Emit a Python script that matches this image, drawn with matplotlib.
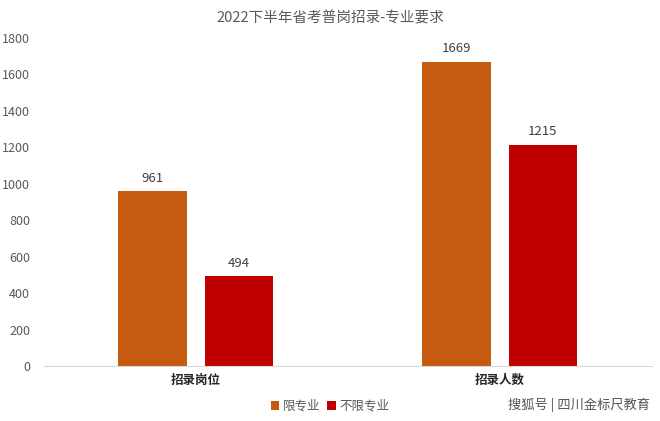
import numpy as np
import matplotlib.pyplot as plt

plt.rcParams['font.family'] = ['Noto Sans CJK SC', 'DejaVu Sans']

categories = ['招录岗位', '招录人数']
limited = [961, 1669]
unlimited = [494, 1215]
series_names = ['限专业', '不限专业']

fig = plt.figure(figsize=(6.6, 4.21), dpi=100)
ax = fig.add_axes([44/660, 55/421, 608/660, 328/421])

x = np.arange(len(categories))
w = 0.226
b1 = ax.bar(x - 0.144, limited, w, color='#C55A11', label=series_names[0])
b2 = ax.bar(x + 0.141, unlimited, w, color='#C00000', label=series_names[1])

for bars in (b1, b2):
    for r in bars:
        ax.text(r.get_x() + r.get_width()/2, r.get_height() + 35, str(int(r.get_height())),
                ha='center', va='bottom', fontsize=9.5, color='#404040')

ax.set_xlim(-0.5, 1.5)
ax.set_ylim(0, 1800)
ax.set_yticks(range(0, 1801, 200))
ax.set_xticks(x)
ax.set_xticklabels(categories, fontsize=9, fontweight='bold', color='#262626')
ax.tick_params(axis='y', length=0, labelsize=9, labelcolor='#595959', pad=10)
ax.tick_params(axis='x', length=0, pad=6)
for s in ['top', 'right', 'left']:
    ax.spines[s].set_visible(False)
ax.spines['bottom'].set_color('#D9D9D9')

fig.text(0.5, 1 - 18/421, '2022下半年省考普岗招录-专业要求', ha='center', va='center',
         fontsize=10.5, color='#595959')
ax.legend(loc='center', bbox_to_anchor=(330/660, 1 - 406/421), bbox_transform=fig.transFigure,
          ncol=2, frameon=False, fontsize=9, handlelength=0.7, handleheight=0.7,
          handletextpad=0.3, columnspacing=0.5, labelcolor='#595959')
fig.text(0.985, 1 - 405/421, '搜狐号 | 四川金标尺教育', ha='right', va='center',
         fontsize=9.5, color='#555555')

fig.savefig('out.png', dpi=100)
